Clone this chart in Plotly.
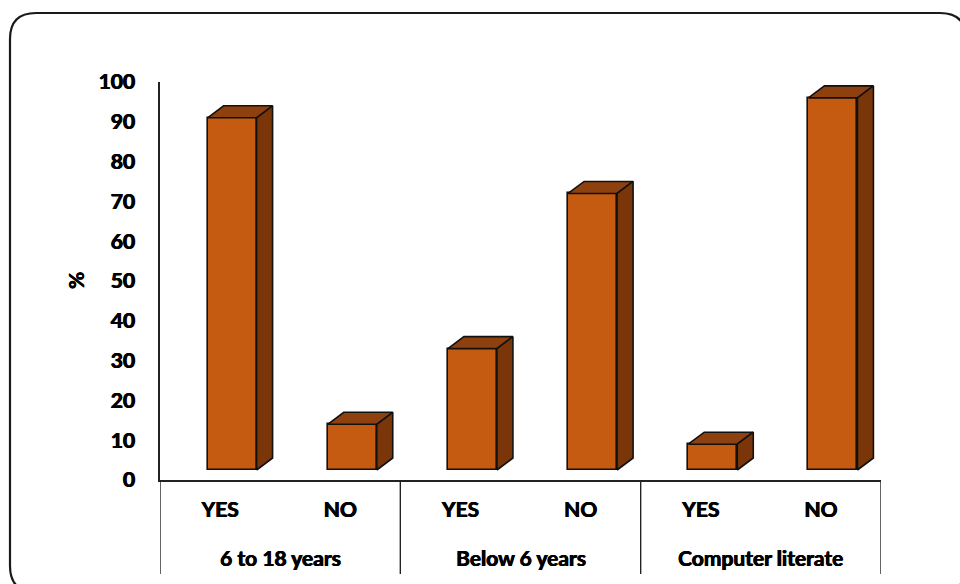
import plotly.graph_objects as go

# Survey results (%), grouped by question
groups = ["6 to 18 years", "Below 6 years", "Computer literate"]
answers = ["YES", "NO", "YES", "NO", "YES", "NO"]
values = [91, 14, 33, 72, 9, 96]
y_ticks = list(range(0, 101, 10))

# Figure geometry (pixels)
W, H = 960, 584
L, R, T, B = 160, 79, 82, 104
PW, PH = W - L - R, H - T - B
X_RANGE = (-0.5, len(answers) - 0.5)
Y_RANGE = (0, 100)
ux = PW / (X_RANGE[1] - X_RANGE[0])   # px per x unit
uy = PH / (Y_RANGE[1] - Y_RANGE[0])   # px per y unit

# 3-D column styling
FRONT, TOP, SIDE = "#C55A11", "#8E400E", "#7A3609"
EDGE = "#111111"
depth_dx = 16 / ux
depth_dy = 12 / uy
face_w = 49 / ux
face_shift = 12 / ux
base = 10 / uy

FONT = "Lato"
FSIZE = 21
# a faint text shadow thickens the strokes to a heavy weight
LABEL_FONT = dict(family=FONT, size=FSIZE, color="black", weight="bold",
                  shadow="0.6px 0 0 black, -0.3px 0 0 black")

xs = [i + face_shift for i in range(len(values))]

fig = go.Figure()
fig.add_trace(go.Bar(
    x=xs, y=[v - base for v in values], base=base, width=face_w,
    marker=dict(color=FRONT, line=dict(color=EDGE, width=1.6)),
    hoverinfo="skip", showlegend=False,
))

for xc, v in zip(xs, values):
    x0, x1 = xc - face_w / 2, xc + face_w / 2
    # top face
    fig.add_trace(go.Scatter(
        x=[x0, x1, x1 + depth_dx, x0 + depth_dx, x0],
        y=[v, v, v + depth_dy, v + depth_dy, v],
        mode="lines", fill="toself", fillcolor=TOP,
        line=dict(color=EDGE, width=1.6), hoverinfo="skip", showlegend=False,
    ))
    # side face
    fig.add_trace(go.Scatter(
        x=[x1, x1, x1 + depth_dx, x1 + depth_dx, x1],
        y=[base, v, v + depth_dy, base + depth_dy, base],
        mode="lines", fill="toself", fillcolor=SIDE,
        line=dict(color=EDGE, width=1.6), hoverinfo="skip", showlegend=False,
    ))


def px_x(p):
    return (p - L) / PW


def px_y(p):
    return (H - B - p) / PH


shapes = []
# rounded outer frame
fx0, fy0, fx1, fy1, r = 10, 13, 966, 592, 26
path = (
    f"M {px_x(fx0 + r)},{px_y(fy0)} L {px_x(fx1 - r)},{px_y(fy0)} "
    f"Q {px_x(fx1)},{px_y(fy0)} {px_x(fx1)},{px_y(fy0 + r)} "
    f"L {px_x(fx1)},{px_y(fy1 - r)} "
    f"Q {px_x(fx1)},{px_y(fy1)} {px_x(fx1 - r)},{px_y(fy1)} "
    f"L {px_x(fx0 + r)},{px_y(fy1)} "
    f"Q {px_x(fx0)},{px_y(fy1)} {px_x(fx0)},{px_y(fy1 - r)} "
    f"L {px_x(fx0)},{px_y(fy0 + r)} "
    f"Q {px_x(fx0)},{px_y(fy0)} {px_x(fx0 + r)},{px_y(fy0)} Z"
)
shapes.append(dict(type="path", xref="paper", yref="paper", path=path,
                   line=dict(color="#1a1a1a", width=2.2), layer="below"))

# group dividers under the category axis
for gx in [-0.5, 1.5, 3.5, 5.5]:
    shapes.append(dict(type="line", xref="x", yref="paper",
                       x0=gx, x1=gx, y0=0, y1=px_y(574),
                       line=dict(color="#222222", width=1.4)))

annotations = []
for gi, g in enumerate(groups):
    annotations.append(dict(
        text=g, x=2 * gi + 0.5, xref="x", y=px_y(557), yref="paper",
        showarrow=False, xanchor="center", yanchor="middle",
        font=LABEL_FONT,
    ))
annotations.append(dict(
    text="%", x=px_x(75), xref="paper", y=px_y(281), yref="paper",
    showarrow=False, textangle=-90, xanchor="center", yanchor="middle",
    font=LABEL_FONT,
))

fig.update_layout(
    width=W, height=H,
    margin=dict(l=L, r=R, t=T, b=B),
    paper_bgcolor="white", plot_bgcolor="white",
    shapes=shapes, annotations=annotations,
    bargap=0,
    xaxis=dict(
        range=list(X_RANGE), tickvals=list(range(len(answers))), ticktext=answers,
        showline=True, linecolor="#222222", linewidth=1.6,
        showgrid=False, zeroline=False, ticks="",
        ticklabelstandoff=10,
        tickfont=LABEL_FONT,
        fixedrange=True,
    ),
    yaxis=dict(
        range=list(Y_RANGE), tickvals=y_ticks,
        showline=True, linecolor="#222222", linewidth=1.6,
        showgrid=False, zeroline=False, ticks="",
        ticklabelstandoff=19,
        tickfont=LABEL_FONT,
        fixedrange=True,
    ),
)

fig.write_html("out.html")
